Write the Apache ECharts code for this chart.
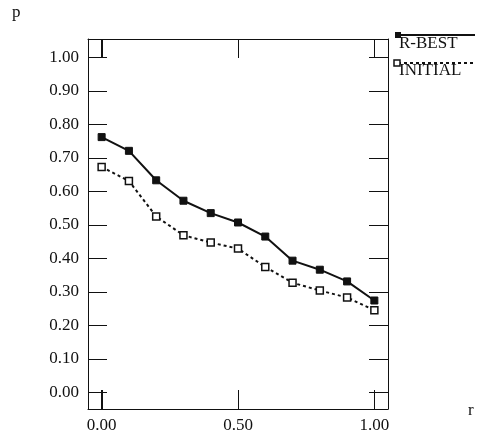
<!DOCTYPE html>
<html>
<head>
<meta charset="utf-8">
<script src="https://cdn.jsdelivr.net/npm/echarts@6/dist/echarts.min.js"></script>
<style>
  html, body { margin: 0; padding: 0; background: #fff; }
  #chart { width: 485px; height: 440px; }
</style>
</head>
<body>
<div id="chart"></div>
<script>
var rValues = [0.0, 0.1, 0.2, 0.3, 0.4, 0.5, 0.6, 0.7, 0.8, 0.9, 1.0]
var bestValues = [0.762, 0.721, 0.633, 0.572, 0.535, 0.507, 0.465, 0.393, 0.366, 0.331, 0.274]
var initialValues = [0.673, 0.631, 0.525, 0.469, 0.447, 0.429, 0.374, 0.327, 0.304, 0.283, 0.245]
var xTicks = [0, 0.5, 1]
var yTicks = [0, 0.1, 0.2, 0.3, 0.4, 0.5, 0.6, 0.7, 0.8, 0.9, 1.0]

var font = 'Liberation Serif'
var ink = '#111'
var xMin = -0.05, xMax = 1.05
var yMin = -0.05, yMax = 1.055
var tickLen = 19

function pairs(ys) {
  return rValues.map(function (x, i) { return [x, ys[i]] })
}

function fmt(v) { return v.toFixed(2) }

// one side of the box frame; ticks point inward
function frameAxis(pos, min, max, ticks, withLabels) {
  return {
    type: 'value',
    position: pos,
    min: min,
    max: max,
    splitLine: { show: false },
    axisLine: { show: true, onZero: false, lineStyle: { color: ink, width: 1 } },
    axisTick: { show: true, inside: true, length: tickLen, customValues: ticks.slice(), lineStyle: { color: ink, width: 1 } },
    axisLabel: withLabels
      ? { customValues: ticks.slice(), margin: pos === 'bottom' ? 8 : 9, color: ink, fontFamily: font, fontSize: 17, formatter: fmt }
      : { show: false }
  }
}

var legendGraphics = [
  { type: 'text', left: 12, top: 4, style: { text: 'p', font: '17px ' + font, fill: ink } },
  { type: 'text', left: 468, top: 402, style: { text: 'r', font: '17px ' + font, fill: ink } },
  { type: 'line', shape: { x1: 397, y1: 35, x2: 475, y2: 35 }, style: { stroke: ink, lineWidth: 2 } },
  { type: 'rect', shape: { x: 395, y: 32, width: 6, height: 6 }, style: { fill: ink } },
  { type: 'text', left: 399, top: 35, style: { text: 'R-BEST', font: '17px ' + font, fill: ink } },
  { type: 'line', shape: { x1: 398, y1: 63, x2: 475, y2: 63 }, style: { stroke: ink, lineWidth: 2, lineDash: [3, 3] } },
  { type: 'rect', shape: { x: 394, y: 60, width: 6, height: 6 }, style: { fill: '#fff', stroke: ink, lineWidth: 1.5 } },
  { type: 'text', left: 399, top: 62, style: { text: 'INITIAL', font: '17px ' + font, fill: ink } }
]

var chart = echarts.init(document.getElementById('chart'))

var option = {
  animation: false,
  backgroundColor: '#fff',
  grid: { left: 88, right: 97, top: 39, bottom: 31 },
  xAxis: [
    frameAxis('bottom', xMin, xMax, xTicks, true),
    frameAxis('top', xMin, xMax, xTicks, false)
  ],
  yAxis: [
    frameAxis('left', yMin, yMax, yTicks, true),
    frameAxis('right', yMin, yMax, yTicks, false)
  ],
  series: [
    {
      name: 'R-BEST',
      type: 'line',
      data: pairs(bestValues),
      symbol: 'rect',
      symbolSize: 7,
      showAllSymbol: true,
      lineStyle: { color: ink, width: 2 },
      itemStyle: { color: ink, borderColor: ink, borderWidth: 1 }
    },
    {
      name: 'INITIAL',
      type: 'line',
      data: pairs(initialValues),
      symbol: 'rect',
      symbolSize: 7,
      showAllSymbol: true,
      lineStyle: { color: ink, width: 2, type: [3, 3] },
      itemStyle: { color: '#fff', borderColor: ink, borderWidth: 1.5 }
    }
  ],
  graphic: { elements: legendGraphics }
}

chart.setOption(option)

// x ticks didn't show up on the frame here, so draw them from the axis scale
var yBottom = chart.convertToPixel({ yAxisIndex: 0 }, yMin)
var yTop = chart.convertToPixel({ yAxisIndex: 0 }, yMax)
var tickGraphics = []
xTicks.forEach(function (v) {
  var px = Math.round(chart.convertToPixel({ xAxisIndex: 0 }, v)) + 0.5
  tickGraphics.push({ type: 'line', shape: { x1: px, y1: yBottom, x2: px, y2: yBottom - tickLen }, style: { stroke: ink, lineWidth: 1 } })
  tickGraphics.push({ type: 'line', shape: { x1: px, y1: yTop, x2: px, y2: yTop + tickLen }, style: { stroke: ink, lineWidth: 1 } })
})
chart.setOption({ graphic: { elements: legendGraphics.concat(tickGraphics) } })
</script>
</body>
</html>
